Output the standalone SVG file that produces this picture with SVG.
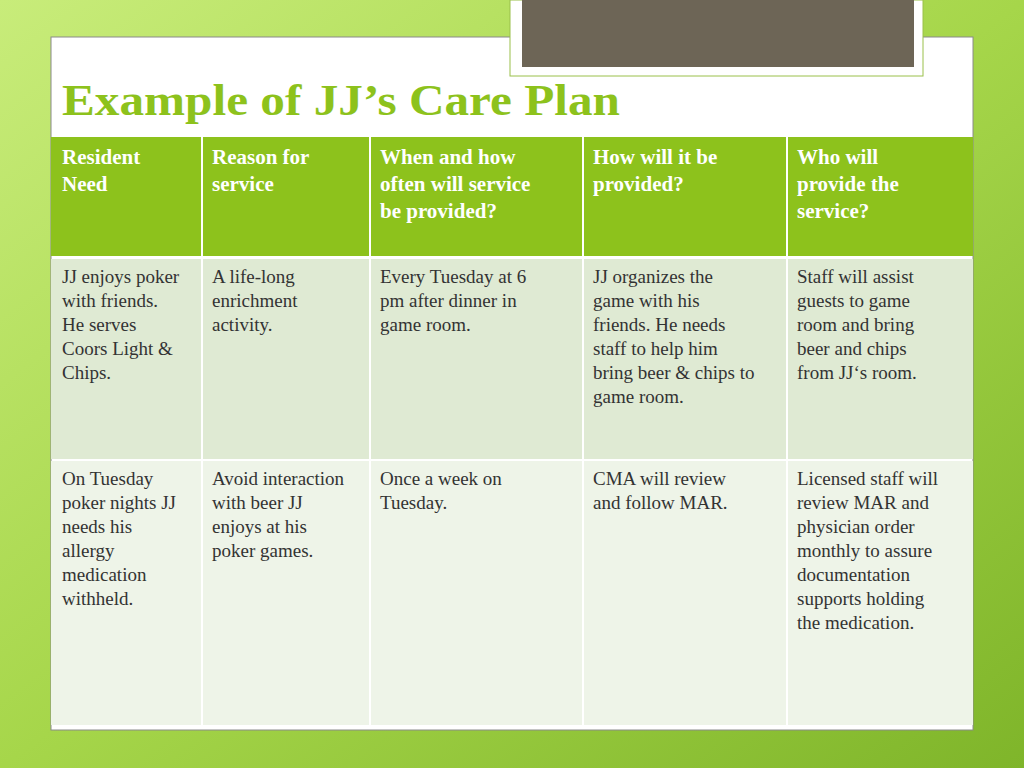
<svg xmlns="http://www.w3.org/2000/svg" width="1024" height="768" viewBox="0 0 1024 768">
<defs>
<linearGradient id="bg" x1="0" y1="0" x2="1" y2="1">
<stop offset="0" stop-color="#c8ec7a"/><stop offset="0.5" stop-color="#a6d64a"/><stop offset="1" stop-color="#7fb52a"/>
</linearGradient>
</defs>
<style>
.h{font-family:"Liberation Serif",serif;font-size:21px;font-weight:bold;fill:#fff}
.b{font-family:"Liberation Serif",serif;font-size:19px;fill:#333}
.hd{fill:#8dc21c}.r1{fill:#dfead3}.r2{fill:#eef4e8}
</style>
<rect width="1024" height="768" fill="url(#bg)"/>
<rect x="51" y="37" width="922" height="693" fill="#fff" stroke="#8a8a8a" stroke-width="1"/>
<rect x="510" y="0" width="413" height="76" fill="#fff" stroke="#9ac04a"/>
<rect x="522" y="0" width="392" height="67" fill="#6d6556"/>
<text x="62" y="115" font-family="Liberation Serif,serif" font-size="44" font-weight="bold" fill="#8dc21c" textLength="558" lengthAdjust="spacingAndGlyphs">Example of JJ’s Care Plan</text>
<g id="header">
<rect class="hd" x="51" y="137" width="150" height="119"/>
<rect class="hd" x="203" y="137" width="166" height="119"/>
<rect class="hd" x="371" y="137" width="211" height="119"/>
<rect class="hd" x="584" y="137" width="202" height="119"/>
<rect class="hd" x="788" y="137" width="185" height="119"/>
<text class="h" x="62" y="164">Resident<tspan x="62" dy="27">Need</tspan></text>
<text class="h" x="212" y="164">Reason for<tspan x="212" dy="27">service</tspan></text>
<text class="h" x="380" y="164">When and how<tspan x="380" dy="27">often will service</tspan><tspan x="380" dy="27">be provided?</tspan></text>
<text class="h" x="593" y="164">How will it be<tspan x="593" dy="27">provided?</tspan></text>
<text class="h" x="797" y="164">Who will<tspan x="797" dy="27">provide the</tspan><tspan x="797" dy="27">service?</tspan></text>
</g>
<g id="row1">
<rect class="r1" x="51" y="259" width="150" height="200"/>
<rect class="r1" x="203" y="259" width="166" height="200"/>
<rect class="r1" x="371" y="259" width="211" height="200"/>
<rect class="r1" x="584" y="259" width="202" height="200"/>
<rect class="r1" x="788" y="259" width="185" height="200"/>
<text class="b" x="62" y="283">JJ enjoys poker<tspan x="62" dy="24">with friends.</tspan><tspan x="62" dy="24">He serves</tspan><tspan x="62" dy="24">Coors Light &amp;</tspan><tspan x="62" dy="24">Chips.</tspan></text>
<text class="b" x="212" y="283">A life-long<tspan x="212" dy="24">enrichment</tspan><tspan x="212" dy="24">activity.</tspan></text>
<text class="b" x="380" y="283">Every Tuesday at 6<tspan x="380" dy="24">pm after dinner in</tspan><tspan x="380" dy="24">game room.</tspan></text>
<text class="b" x="593" y="283">JJ organizes the<tspan x="593" dy="24">game with his</tspan><tspan x="593" dy="24">friends.  He needs</tspan><tspan x="593" dy="24">staff to help him</tspan><tspan x="593" dy="24">bring beer &amp; chips to</tspan><tspan x="593" dy="24">game room.</tspan></text>
<text class="b" x="797" y="283">Staff will assist<tspan x="797" dy="24">guests to game</tspan><tspan x="797" dy="24">room and bring</tspan><tspan x="797" dy="24">beer and chips</tspan><tspan x="797" dy="24">from JJ‘s room.</tspan></text>
</g>
<g id="row2">
<rect class="r2" x="51" y="461" width="150" height="264"/>
<rect class="r2" x="203" y="461" width="166" height="264"/>
<rect class="r2" x="371" y="461" width="211" height="264"/>
<rect class="r2" x="584" y="461" width="202" height="264"/>
<rect class="r2" x="788" y="461" width="185" height="264"/>
<text class="b" x="62" y="485">On Tuesday<tspan x="62" dy="24">poker nights JJ</tspan><tspan x="62" dy="24">needs his</tspan><tspan x="62" dy="24">allergy</tspan><tspan x="62" dy="24">medication</tspan><tspan x="62" dy="24">withheld.</tspan></text>
<text class="b" x="212" y="485">Avoid interaction<tspan x="212" dy="24">with beer JJ</tspan><tspan x="212" dy="24">enjoys at his</tspan><tspan x="212" dy="24">poker games.</tspan></text>
<text class="b" x="380" y="485">Once a week on<tspan x="380" dy="24">Tuesday.</tspan></text>
<text class="b" x="593" y="485">CMA will review<tspan x="593" dy="24">and follow MAR.</tspan></text>
<text class="b" x="797" y="485">Licensed staff will<tspan x="797" dy="24">review MAR and</tspan><tspan x="797" dy="24">physician order</tspan><tspan x="797" dy="24">monthly to assure</tspan><tspan x="797" dy="24">documentation</tspan><tspan x="797" dy="24">supports holding</tspan><tspan x="797" dy="24">the medication.</tspan></text>
</g>
</svg>
